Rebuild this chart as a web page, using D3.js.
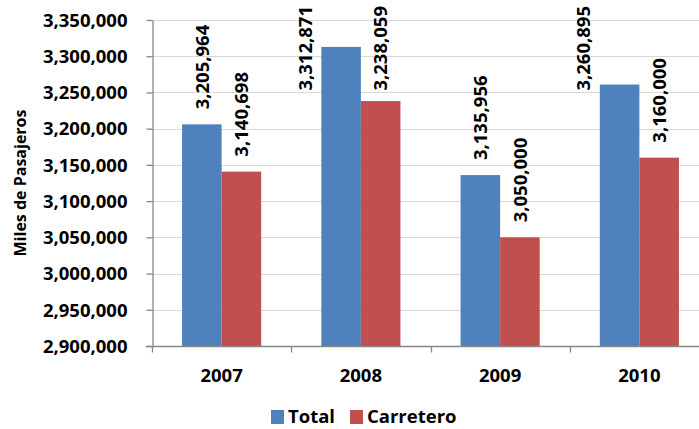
<!DOCTYPE html>
<html>
<head>
<meta charset="utf-8">
<script src="https://cdn.jsdelivr.net/npm/d3@7"></script>
<style>
  html, body { margin: 0; padding: 0; background: #fff; }
  svg { display: block; }
  text { font-family: "Open Sans", "Liberation Sans", sans-serif; font-weight: bold; fill: #000; }
</style>
</head>
<body>
<svg id="chart" width="699" height="429"></svg>
<script>
// Passenger totals per year (thousands)
const years = ["2007", "2008", "2009", "2010"];
const seriesNames = ["Total", "Carretero"];
const totalValues = [3205964, 3312871, 3135956, 3260895];
const carreteroValues = [3140698, 3238059, 3050000, 3160000];
const yTicks = [2900000, 2950000, 3000000, 3050000, 3100000, 3150000, 3200000, 3250000, 3300000, 3350000];
const colors = ["#4F81BD", "#C0504D"];
const yTitle = "Miles de Pasajeros";

const W = 699, H = 429;
const plot = { left: 152, right: 709, top: 20, bottom: 346 };
const fontSize = "18.5px";

const svg = d3.select("#chart");
const fmt = d3.format(",");

const y = d3.scaleLinear()
  .domain([yTicks[0], yTicks[yTicks.length - 1]])
  .range([plot.bottom, plot.top]);

const x0 = d3.scaleBand().domain(years).range([plot.left, plot.right]).paddingInner(0).paddingOuter(0);
const x1 = d3.scaleBand().domain(seriesNames).range([0, x0.bandwidth()]).paddingInner(0).paddingOuter(0.76);

const rows = years.map((yr, i) => ({ year: yr, values: [totalValues[i], carreteroValues[i]] }));

// Gridlines
svg.append("g")
  .selectAll("line")
  .data(yTicks.slice(1))
  .join("line")
  .attr("x1", plot.left).attr("x2", W)
  .attr("y1", d => Math.round(y(d)) + 0.5).attr("y2", d => Math.round(y(d)) + 0.5)
  .attr("stroke", "#d9d9d9").attr("stroke-width", 1.2);

// Y axis
const yAxis = svg.append("g")
  .attr("transform", `translate(${plot.left + 0.5},0)`)
  .call(d3.axisLeft(y).tickValues(yTicks).tickFormat(fmt).tickSize(6).tickSizeOuter(0).tickPadding(19));
yAxis.select(".domain").attr("stroke", "#868686").attr("stroke-width", 1.3);
yAxis.selectAll(".tick line").attr("stroke", "#868686").attr("stroke-width", 1.3);
yAxis.selectAll(".tick text")
  .style("font-family", "'Open Sans', sans-serif").style("font-weight", "bold").style("font-size", fontSize)
  .attr("fill", "#000").attr("dy", "0.34em");

// Bars
const groups = svg.append("g")
  .selectAll("g")
  .data(rows)
  .join("g")
  .attr("transform", d => `translate(${x0(d.year)},0)`);

groups.selectAll("rect")
  .data(d => d.values.map((v, k) => ({ series: seriesNames[k], k, v })))
  .join("rect")
  .attr("x", d => x1(d.series))
  .attr("width", x1.bandwidth())
  .attr("y", d => y(d.v))
  .attr("height", d => plot.bottom - y(d.v))
  .attr("fill", d => colors[d.k]);

// X axis
const xAxis = svg.append("g")
  .attr("transform", `translate(0,${plot.bottom + 0.5})`);
xAxis.append("line")
  .attr("x1", plot.left - 6).attr("x2", W)
  .attr("stroke", "#868686").attr("stroke-width", 1.3);
xAxis.selectAll("line.tk")
  .data(years.map(yr => x0(yr)))
  .join("line")
  .attr("class", "tk")
  .attr("x1", d => Math.round(d) + 0.5).attr("x2", d => Math.round(d) + 0.5)
  .attr("y1", 0).attr("y2", 6)
  .attr("stroke", "#868686").attr("stroke-width", 1.3);
xAxis.selectAll("text")
  .data(years)
  .join("text")
  .attr("x", d => x0(d) + x0.bandwidth() / 2)
  .attr("y", 35)
  .attr("text-anchor", "middle")
  .style("font-size", fontSize)
  .text(d => d);

// Value labels, rotated, placed above each bar
const labelGap = 15;
const minTop = 6;
const labels = groups.selectAll("text.val")
  .data(d => d.values.map((v, k) => ({ series: seriesNames[k], k, v })))
  .join("text")
  .attr("class", "val")
  .style("font-size", fontSize)
  .attr("text-anchor", "start")
  .text(d => fmt(d.v));

labels.each(function (d) {
  const len = this.getComputedTextLength();
  const cx = x1(d.series) + x1.bandwidth() / 2;
  let bottom = y(d.v) - labelGap;
  let lx = cx;
  if (bottom - len < minTop) {
    if (d.k === 0 && bottom - len < 0) {
      // not enough room above: move beside the bar
      lx = x1(d.series) - 16;
    }
    bottom = minTop + len;
  }
  d3.select(this)
    .attr("transform", `translate(${lx},${bottom}) rotate(-90)`)
    .attr("dy", "0.36em");
});

// Y axis title
svg.append("text")
  .attr("transform", `translate(20,${(plot.top + plot.bottom) / 2}) rotate(-90)`)
  .attr("text-anchor", "middle")
  .attr("dy", "0.36em")
  .style("font-size", "16px")
  .text(yTitle);

// Legend
const legend = svg.append("g").attr("transform", "translate(271,410)");
const items = [
  { name: seriesNames[0], color: colors[0], x: 0 },
  { name: seriesNames[1], color: colors[1], x: 79 }
];
const li = legend.selectAll("g").data(items).join("g")
  .attr("transform", d => `translate(${d.x},0)`);
li.append("rect").attr("width", 13).attr("height", 14).attr("fill", d => d.color);
li.append("text").attr("x", 17).attr("y", 13).style("font-size", fontSize).text(d => d.name);
</script>
</body>
</html>
